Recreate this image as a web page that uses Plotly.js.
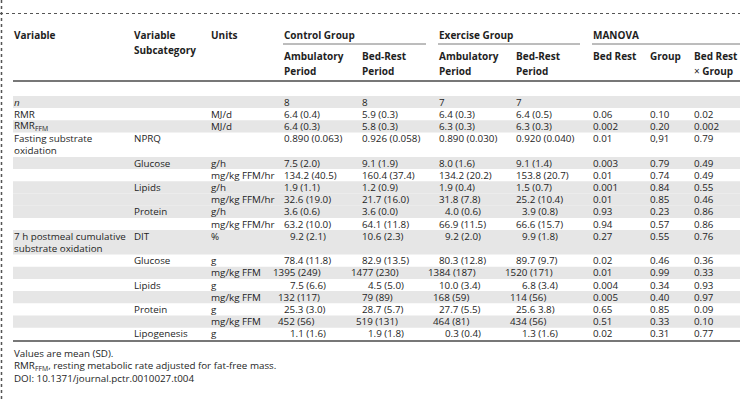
<!DOCTYPE html>
<html>
<head>
<meta charset="utf-8">
<script src="https://cdn.plot.ly/plotly-3.0.1.min.js"></script>
<style>html,body{margin:0;padding:0;background:#fff;}#chart{width:740px;height:402px;}</style>
</head>
<body>
<div id="chart"></div>
<script>
// ---------- DATA ----------
const variables = ["<i>n</i>","RMR","RMR<sub>FFM</sub>","Fasting substrate<br>oxidation","","","","","","","7 h postmeal cumulative<br>substrate oxidation","","","","","","",""];
const subcategories = ["","","","NPRQ","Glucose","","Lipids","","Protein","","DIT","Glucose","","Lipids","","Protein","","Lipogenesis"];
const units = ["","MJ/d","MJ/d","","g/h","mg/kg FFM/hr","g/h","mg/kg FFM/hr","g/h","mg/kg FFM/hr","%","g","mg/kg FFM","g","mg/kg FFM","g","mg/kg FFM","g"];
const controlAmbulatory = ["8","6.4 (0.4)","6.4 (0.3)","0.890 (0.063)","7.5 (2.0)","134.2 (40.5)","1.9 (1.1)","32.6 (19.0)","3.6 (0.6)","63.2 (10.0)","9.2 (2.1)","78.4 (11.8)","1395 (249)","7.5 (6.6)","132 (117)","25.3 (3.0)","452 (56)","1.1 (1.6)"];
const controlBedRest = ["8","5.9 (0.3)","5.8 (0.3)","0.926 (0.058)","9.1 (1.9)","160.4 (37.4)","1.2 (0.9)","21.7 (16.0)","3.6 (0.0)","64.1 (11.8)","10.6 (2.3)","82.9 (13.5)","1477 (230)","4.5 (5.0)","79 (89)","28.7 (5.7)","519 (131)","1.9 (1.8)"];
const exerciseAmbulatory = ["7","6.4 (0.3)","6.3 (0.3)","0.890 (0.030)","8.0 (1.6)","134.2 (20.2)","1.9 (0.4)","31.8 (7.8)","4.0 (0.6)","66.9 (11.5)","9.2 (2.0)","80.3 (12.8)","1384 (187)","10.0 (3.4)","168 (59)","27.7 (5.5)","464 (81)","0.3 (0.4)"];
const exerciseBedRest = ["7","6.4 (0.5)","6.3 (0.3)","0.920 (0.040)","9.1 (1.4)","153.8 (20.7)","1.5 (0.7)","25.2 (10.4)","3.9 (0.8)","66.6 (15.7)","9.9 (1.8)","89.7 (9.7)","1520 (171)","6.8 (3.4)","114 (56)","25.6 3.8)","434 (56)","1.3 (1.6)"];
const pBedRest = ["","0.06","0.002","0.01","0.003","0.01","0.001","0.01","0.93","0.94","0.27","0.02","0.01","0.004","0.005","0.65","0.51","0.02"];
const pGroup = ["","0.10","0.20","0,91","0.79","0.74","0.84","0.85","0.23","0.57","0.55","0.46","0.99","0.34","0.40","0.85","0.33","0.31"];
const pInteraction = ["","0.02","0.002","0.79","0.49","0.49","0.55","0.46","0.86","0.86","0.76","0.36","0.33","0.93","0.97","0.09","0.10","0.77"];

const topHeaders = ["Variable","Variable<br>Subcategory","Units"];
const groupHeaders = ["Control Group","Exercise Group","MANOVA"];
const subHeaders = ["Ambulatory<br>Period","Bed-Rest<br>Period","Ambulatory<br>Period","Bed-Rest<br>Period","Bed Rest","Group","Bed Rest<br>× Group"];
const footnotes = ["Values are mean (SD).","RMR<sub>FFM</sub>, resting metabolic rate adjusted for fat-free mass.","DOI: 10.1371/journal.pctr.0010027.t004"];

// ---------- LAYOUT / STYLE ----------
const FONT = "Open Sans, Noto Sans, sans-serif";
const TXT = "#1e1e1e";
const BODY = 9.8, HEAD = 10;
const shadedRows = [0,2,4,6,7,8,10,12,14,16];
const textColX = [13,133,210];
const valueColX = [283,361,438,515];
const pColX = [592,649,693];
const firstLineY = 102, lineStep = 12.2;
const digitW = 0.572*BODY;
const decimalFromRow = [10,10,7,7];

const annotations = [];
const shapes = [];
function addText(x,y,text,size){
  if (!text) return;
  annotations.push({xref:"x",yref:"y",x:x,y:y,text:text,showarrow:false,
    xanchor:"left",yanchor:"middle",borderpad:0,
    font:{family:FONT,size:size,color:TXT}});
}
function addLines(x,y,text,size,step){
  text.split("<br>").forEach((t,i)=>addText(x,y+i*step,t,size));
}

// header
const headY1 = 35, headStep = 15, subY = 56;
topHeaders.forEach((h,i)=>addLines(textColX[i],headY1,h.split("<br>").map(s=>"<b>"+s+"</b>").join("<br>"),HEAD,headStep));
const groupX = [valueColX[0],valueColX[2],pColX[0]];
const groupEnd = [426,580,740];
groupHeaders.forEach((h,i)=>{
  addText(groupX[i],headY1,"<b>"+h+"</b>",HEAD);
  shapes.push({type:"line",xref:"x",yref:"y",x0:groupX[i],x1:groupEnd[i],y0:44,y1:44,line:{color:"#7a7a7a",width:1}});
});
const subX = valueColX.concat(pColX);
subHeaders.forEach((h,i)=>{
  const lines = h.split("<br>").map(s=> s.startsWith("×") ? "× <b>"+s.slice(1).trim()+"</b>" : "<b>"+s+"</b>");
  addLines(subX[i],subY,lines.join("<br>"),HEAD,headStep);
});

// rows
let line = 0;
const rowLineStart = [];
variables.forEach((v)=>{
  rowLineStart.push(line);
  line += Math.max(1, v.split("<br>").length);
});
const totalLines = line;

variables.forEach((v,r)=>{
  const nLines = Math.max(1, v.split("<br>").length);
  const y = firstLineY + rowLineStart[r]*lineStep;
  if (shadedRows.includes(r)) {
    shapes.push({type:"rect",xref:"x",yref:"y",layer:"below",x0:13,x1:740,
      y0:y-lineStep/2,y1:y-lineStep/2+nLines*lineStep,fillcolor:"#e6e6e6",line:{width:0}});
  }
  addLines(textColX[0],y,v,BODY,lineStep);
  addText(textColX[1],y,subcategories[r],BODY);
  addText(textColX[2],y,units[r],BODY);
  [controlAmbulatory,controlBedRest,exerciseAmbulatory,exerciseBedRest].forEach((col,c)=>{
    const s = col[r];
    let x = valueColX[c];
    if (r >= decimalFromRow[c]) {
      const intPart = s.split(" ")[0].split(".")[0];
      x += (2 - intPart.length)*digitW;
    }
    addText(x,y,s,BODY);
  });
  [pBedRest,pGroup,pInteraction].forEach((col,c)=>addText(pColX[c],y,col[r],BODY));
});

// rules
const headRuleY = 81;
const bottomRuleY = firstLineY + (totalLines-0.5)*lineStep + 1;
shapes.push({type:"line",xref:"x",yref:"y",x0:13,x1:740,y0:headRuleY,y1:headRuleY,line:{color:"#4a4a4a",width:1.5}});
shapes.push({type:"line",xref:"x",yref:"y",x0:13,x1:740,y0:bottomRuleY,y1:bottomRuleY,line:{color:"#4a4a4a",width:1.5}});
// dotted frame
shapes.push({type:"line",xref:"x",yref:"y",x0:0,x1:740,y0:13.5,y1:13.5,line:{color:"#555",width:1,dash:"dot"}});
shapes.push({type:"line",xref:"x",yref:"y",x0:1.5,x1:1.5,y0:0,y1:402,line:{color:"#555",width:1.5,dash:"dot"}});

// footnotes
footnotes.forEach((f,i)=>addText(13,bottomRuleY+12.5+i*12.5,f,BODY));

const layout = {
  width:740,height:402,margin:{l:0,r:0,t:0,b:0},
  paper_bgcolor:"#fff",plot_bgcolor:"#fff",showlegend:false,
  xaxis:{range:[0,740],visible:false,fixedrange:true},
  yaxis:{range:[402,0],visible:false,fixedrange:true},
  annotations:annotations,shapes:shapes
};
Plotly.newPlot("chart",[{type:"scatter",x:[],y:[],mode:"markers",hoverinfo:"skip"}],layout,{staticPlot:true,displayModeBar:false});
</script>
</body>
</html>
